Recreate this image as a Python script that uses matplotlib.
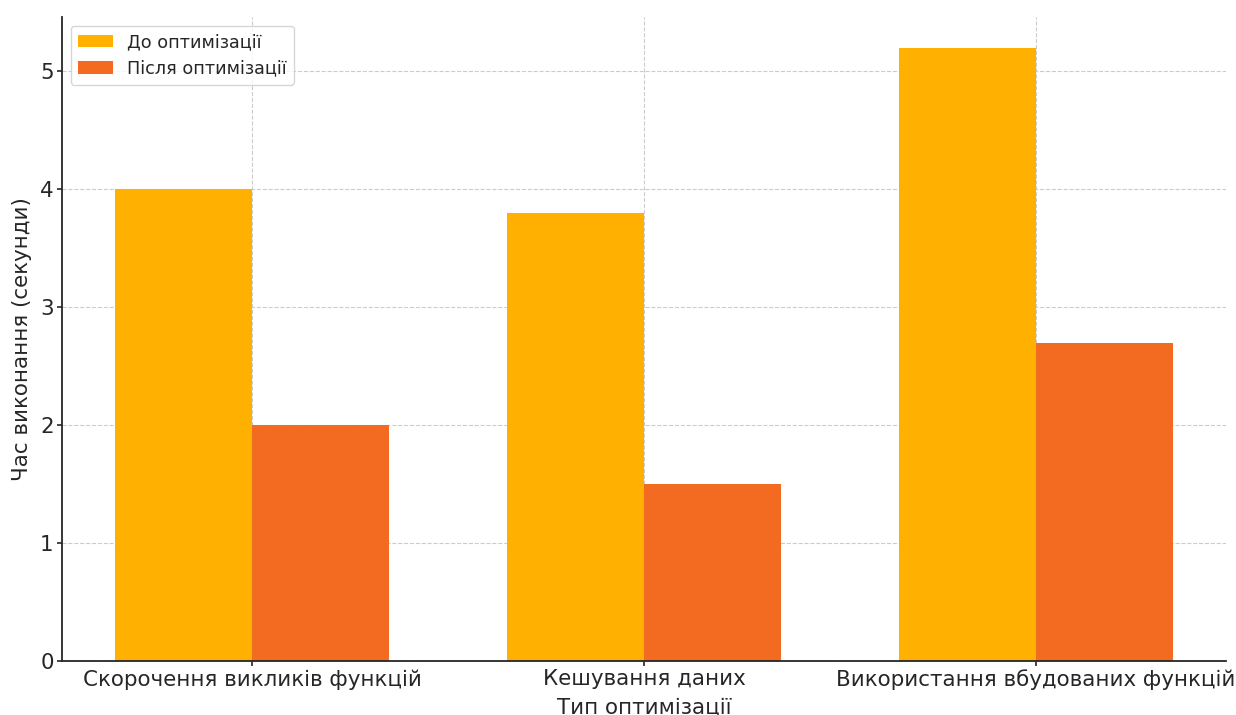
import numpy as np
import matplotlib.pyplot as plt

categories = ['Скорочення викликів функцій', 'Кешування даних', 'Використання вбудованих функцій']
before = [4.0, 3.8, 5.2]
after = [2.0, 1.5, 2.7]

text_color = '#262626'
plt.rcParams['text.color'] = text_color
plt.rcParams['axes.labelcolor'] = text_color
plt.rcParams['xtick.color'] = text_color
plt.rcParams['ytick.color'] = text_color

x = np.arange(len(categories))
width = 0.35

fig, ax = plt.subplots(figsize=(12.36, 7.15), dpi=100)
fig.subplots_adjust(left=0.0502, right=0.9919, top=0.9762, bottom=0.0755)

ax.bar(x - width/2, before, width, label='До оптимізації', color='#FFB000')
ax.bar(x + width/2, after, width, label='Після оптимізації', color='#F26B21')

ax.set_xticks(x)
ax.set_xticklabels(categories)
ax.set_xlabel('Тип оптимізації', fontsize=15.4, labelpad=5)
ax.set_ylabel('Час виконання (секунди)', fontsize=15.4, labelpad=6)
ax.tick_params(labelsize=15.4, width=1.2, length=3.5, pad=2.5)

ax.set_axisbelow(True)
ax.grid(True, linestyle='--', color='#cccccc', linewidth=0.8)
ax.spines['top'].set_visible(False)
ax.spines['right'].set_visible(False)
for side in ['left', 'bottom']:
    ax.spines[side].set_color('#262626')
    ax.spines[side].set_linewidth(1.3)

ax.legend(loc='upper left', fontsize=12.7)

plt.savefig('out.png')
